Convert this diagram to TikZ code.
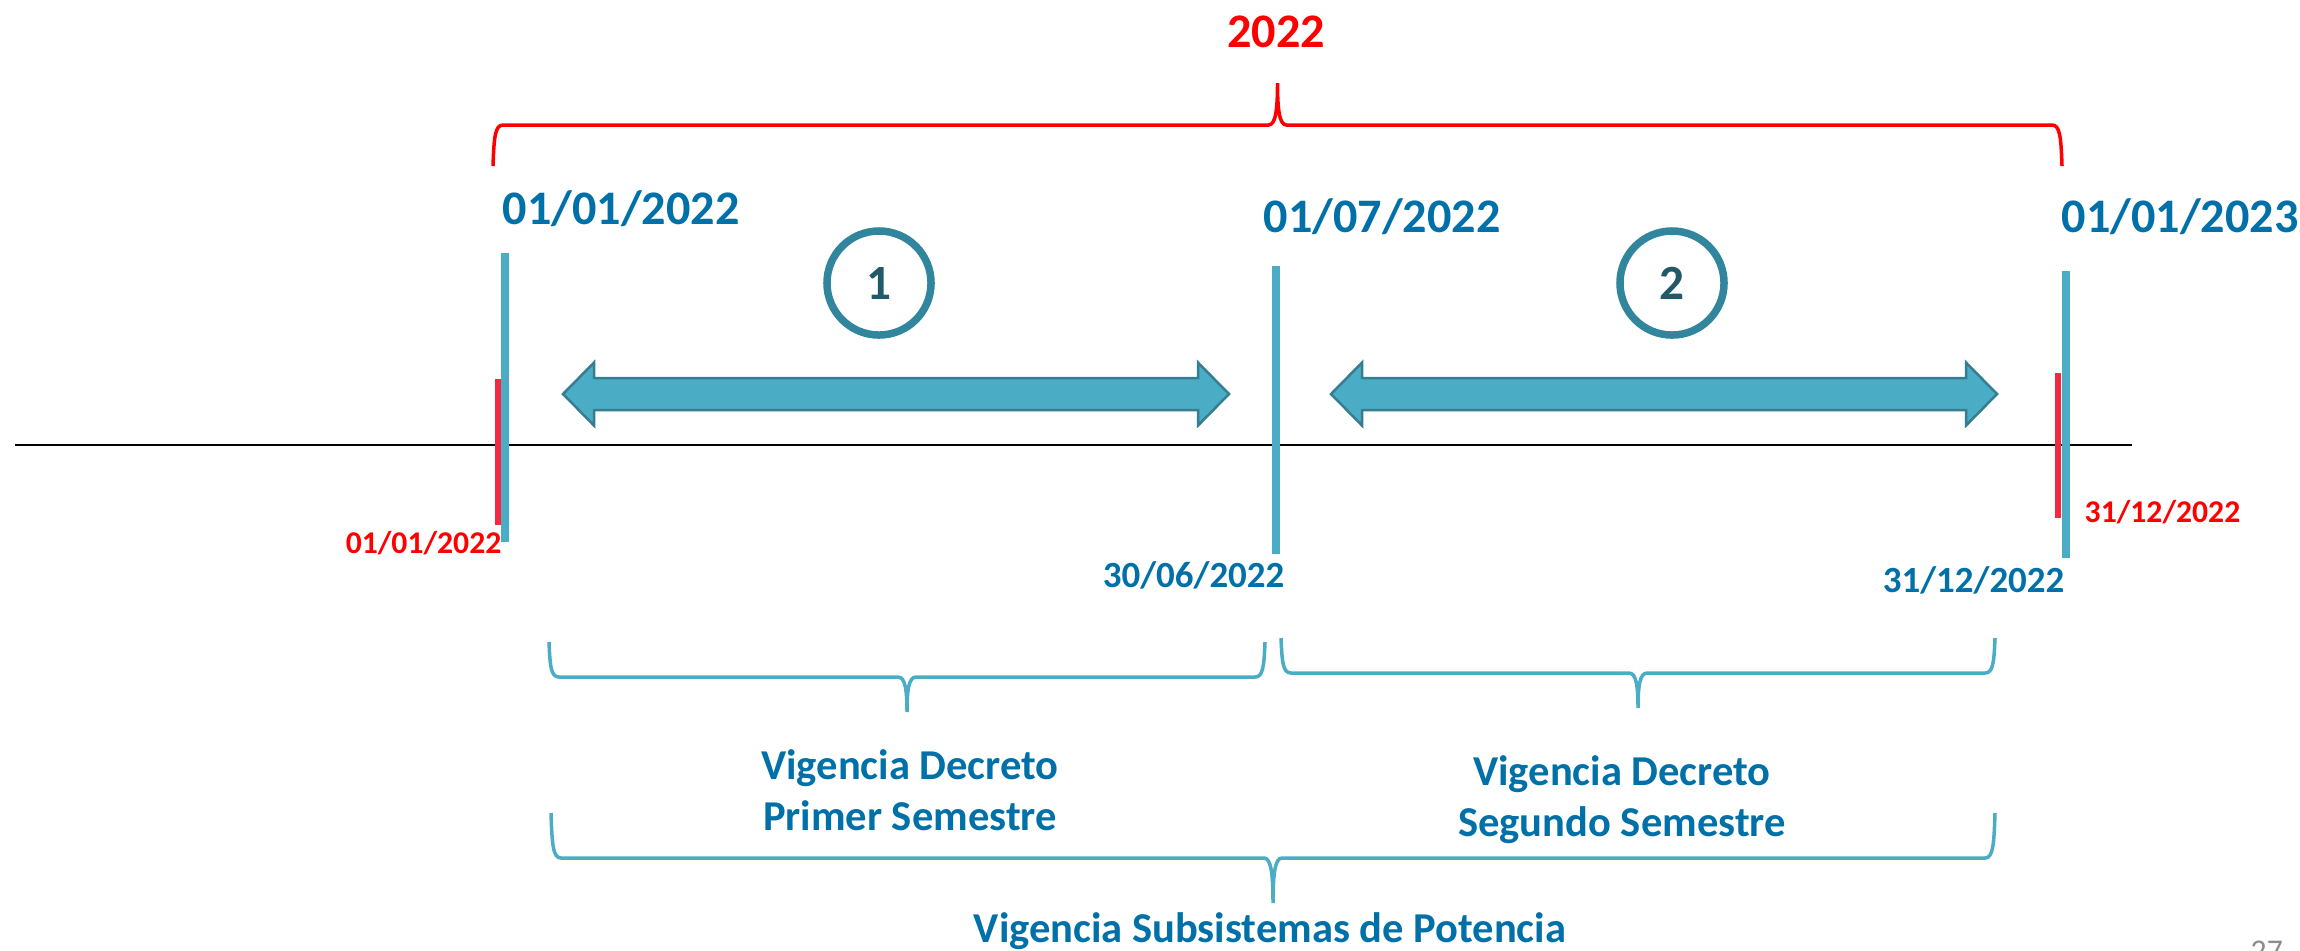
\documentclass[tikz,border=0pt]{standalone}
\usepackage{fontspec}
\setmainfont{Carlito}
\usepackage{tikz}
\usetikzlibrary{calc}
\definecolor{azultexto}{RGB}{0,112,168}
\definecolor{celeste}{RGB}{75,172,198}
\definecolor{celesteborde}{RGB}{53,125,145}
\definecolor{tealcirculo}{RGB}{49,133,156}
\definecolor{tealnumero}{RGB}{33,89,104}
\definecolor{rojobarra}{RGB}{245,40,65}
\definecolor{grispagina}{RGB}{140,140,140}

% Llave: estilo, x izquierda, x derecha, y extremos, y barra, y punta
\newcommand{\Llave}[6]{%
  \draw[#1] (#2,#4) .. controls ({#2+1},{#5+0.3*(#4-#5)}) and ({#2+2},#5) .. ({#2+10},#5)
    -- ({(#2+#3)/2-9},#5) .. controls ({(#2+#3)/2-2},#5) and ({(#2+#3)/2},{#5+0.35*(#6-#5)}) .. ({(#2+#3)/2},#6)
    .. controls ({(#2+#3)/2},{#5+0.35*(#6-#5)}) and ({(#2+#3)/2+2},#5) .. ({(#2+#3)/2+9},#5)
    -- ({#3-10},#5) .. controls ({#3-2},#5) and ({#3-1},{#5+0.3*(#4-#5)}) .. (#3,#4);}
% Flecha doble: x punta izquierda, x punta derecha, y centro
\newcommand{\FlechaDoble}[3]{%
  \draw[flecha] (#1,#3) -- ({#1+31},{#3-31.5}) -- ({#1+31},{#3-16}) -- ({#2-31},{#3-16})
    -- ({#2-31},{#3-31.5}) -- (#2,#3) -- ({#2-31},{#3+31.5}) -- ({#2-31},{#3+16})
    -- ({#1+31},{#3+16}) -- ({#1+31},{#3+31.5}) -- cycle;}

\tikzset{
  fechagrande/.style={font=\fontsize{13.7}{16}\selectfont\bfseries, text=azultexto, inner sep=0pt},
  fechaazul/.style={font=\fontsize{10.5}{12}\selectfont\bfseries, text=azultexto, inner sep=0pt},
  fecharoja/.style={font=\fontsize{9}{11}\selectfont\bfseries, text=red, inner sep=0pt},
  vigencia/.style={font=\fontsize{12.1}{14.5}\selectfont\bfseries, text=azultexto, inner sep=0pt, align=center},
  barraazul/.style={celeste, line width=0.08cm},
  barraroja/.style={rojobarra, line width=0.06cm},
  flecha/.style={fill=celeste, draw=celesteborde, line width=0.025cm, line join=miter},
  circulo/.style={circle, draw=tealcirculo, line width=0.075cm, minimum size=1.04cm, inner sep=0pt,
    font=\fontsize{14}{16}\selectfont\bfseries, text=tealnumero},
  llaveazul/.style={celeste, line width=0.035cm},
  llaveroja/.style={red, line width=0.035cm}
}

\begin{document}
\begin{tikzpicture}[x=0.01cm, y=-0.01cm]
  \useasboundingbox (0,0) rectangle (2300,950);
  \clip (0,0) rectangle (2300,950);
  % Año y llave superior
  \node[font=\fontsize{13.7}{16}\selectfont\bfseries, text=red, inner sep=0pt] (anio) at (1276,32) {2022};
  \Llave{llaveroja}{493}{2062}{166}{125}{83}
  % Fechas superiores
  \node[fechagrande, anchor=base west] (ini) at (502,224) {01/01/2022};
  \node[fechagrande, anchor=base] (jul) at (1382,232) {01/07/2022};
  \node[fechagrande, anchor=base west] (fin) at (2061,232) {01/01/2023};
  % Línea de tiempo
  \coordinate (izq) at (15,445);
  \coordinate (der) at (2132,445);
  \draw[line width=0.4pt] (izq) -- (der);
  % Barras verticales
  \draw[barraroja] (498,379) -- (498,525);
  \draw[barraazul] (505,253) -- (505,542);
  \draw[barraazul] (1276,266) -- (1276,554);
  \draw[barraroja] (2058,373) -- (2058,518);
  \draw[barraazul] (2066,271) -- (2066,558);
  % Flechas de cada semestre
  \FlechaDoble{563}{1229}{394}
  \FlechaDoble{1331}{1997}{394}
  \node[circulo] (uno) at (879,283) {1};
  \node[circulo] (dos) at (1672,283) {2};
  % Fechas inferiores
  \node[fecharoja, anchor=base east] (ini-r) at (502,553) {01/01/2022};
  \node[fechaazul, anchor=base east] (jun) at (1285,587) {30/06/2022};
  \node[fechaazul, anchor=base east] (dic) at (2065,592) {31/12/2022};
  \node[fecharoja, anchor=base west] (dic-r) at (2084,522) {31/12/2022};
  % Llaves inferiores
  \Llave{llaveazul}{549}{1265}{642}{677}{712}
  \Llave{llaveazul}{1281}{1995}{638}{673}{708}
  \Llave{llaveazul}{551}{1995}{813}{858}{903}
  \node[vigencia] (sem1) at (910,790) {Vigencia Decreto\\Primer Semestre};
  \node[vigencia] (sem2) at (1622,800) {Vigencia Decreto\\Segundo Semestre};
  \node[vigencia, anchor=base] (subs) at (1270,942) {Vigencia Subsistemas de Potencia};
  % Número de página
  \node[font=\fontsize{9}{11}\selectfont, text=grispagina, anchor=north west, inner sep=0pt] (pag) at (2250,940) {27};
\end{tikzpicture}
\end{document}
